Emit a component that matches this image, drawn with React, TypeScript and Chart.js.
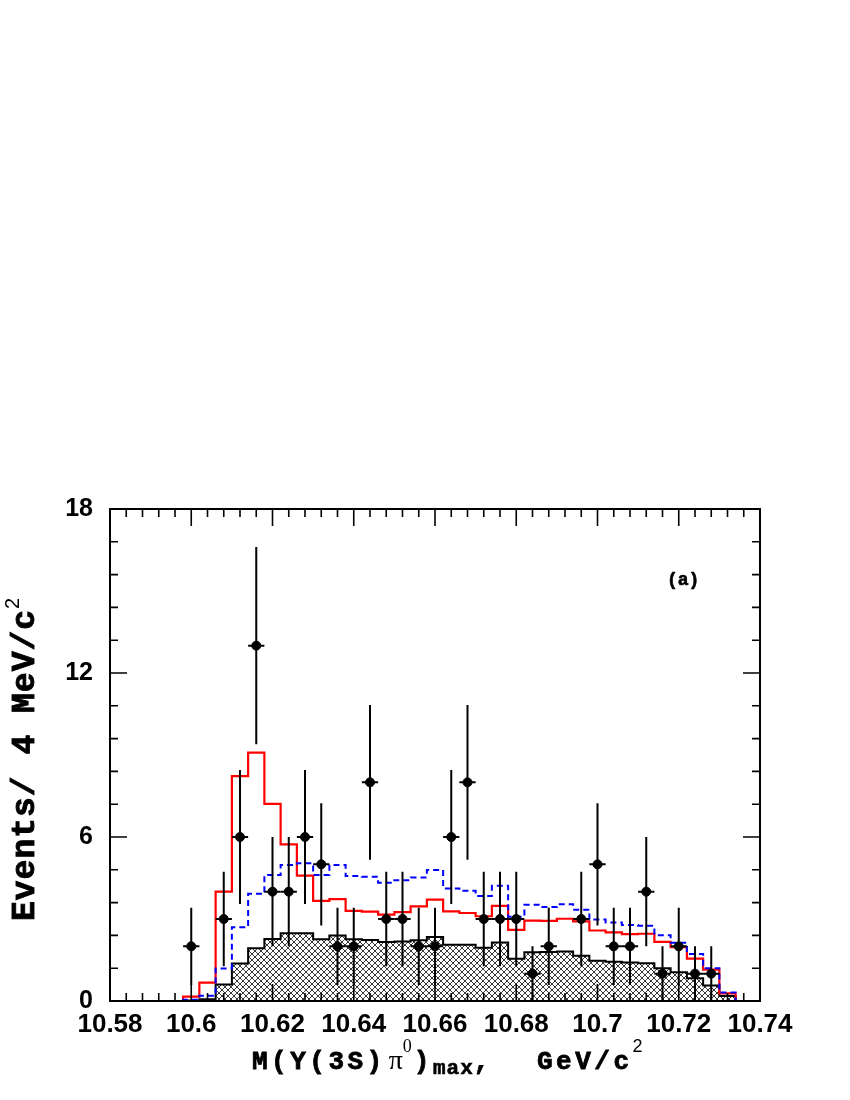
import React, { useEffect, useRef } from "react";
import { Chart, registerables } from "chart.js";

Chart.register(...registerables);

// Bin centres, GeV/c^2 (bin width 4 MeV)
const binCenters = [
  10.600, 10.604, 10.608, 10.612, 10.616, 10.620, 10.624, 10.628, 10.632, 10.636,
  10.640, 10.644, 10.648, 10.652, 10.656, 10.660, 10.664, 10.668, 10.672, 10.676,
  10.680, 10.684, 10.688, 10.692, 10.696, 10.700, 10.704, 10.708, 10.712, 10.716,
  10.720, 10.724, 10.728, 10.732,
];
const BIN_WIDTH = 0.004;

// Data: events per bin
const dataCounts = [
  2, 0, 3, 6, 13, 4, 4, 6, 5, 2,
  2, 8, 3, 3, 2, 2, 6, 8, 3, 3,
  3, 1, 2, 0, 3, 5, 2, 2, 4, 1,
  2, 1, 1, 0,
];

// Total fit (red)
const totalFit = [
  0.16, 0.67, 4.0, 8.23, 9.09, 7.21, 5.73, 4.59, 3.66, 3.73,
  3.30, 3.27, 3.16, 3.25, 3.46, 3.71, 3.28, 3.22, 3.10, 3.48,
  2.60, 2.94, 2.93, 3.01, 2.91, 2.58, 2.51, 2.45, 2.46, 2.16,
  1.97, 1.55, 1.15, 0.28,
];

// Alternative fit (blue dashed)
const altFit = [
  0.05, 0.19, 1.19, 2.70, 3.92, 4.61, 4.98, 5.04, 4.61, 4.98,
  4.57, 4.55, 4.33, 4.42, 4.52, 4.79, 4.12, 4.03, 3.84, 4.22,
  3.08, 3.52, 3.44, 3.54, 3.34, 2.98, 2.87, 2.78, 2.75, 2.41,
  2.13, 1.72, 1.20, 0.31,
];

// Background (hatched)
const background = [
  0.02, 0.06, 0.60, 1.37, 1.93, 2.27, 2.48, 2.48, 2.26, 2.40,
  2.26, 2.23, 2.16, 2.18, 2.22, 2.34, 2.06, 2.06, 1.95, 2.14,
  1.55, 1.78, 1.79, 1.81, 1.66, 1.47, 1.44, 1.41, 1.38, 1.20,
  1.05, 0.83, 0.57, 0.18,
];

const X_MIN = 10.58;
const X_MAX = 10.74;
const X_MAJOR = 0.02;
const X_MINOR = 0.004;
const Y_MIN = 0;
const Y_MAX = 18;
const Y_MAJOR = 6;
const Y_MINOR = 1.2;

function stepPoints(vals: number[]) {
  const half = BIN_WIDTH / 2;
  const pts: { x: number; y: number }[] = [{ x: binCenters[0] - half, y: 0 }];
  vals.forEach((v, i) => pts.push({ x: binCenters[i] - half, y: v }));
  pts.push({ x: binCenters[binCenters.length - 1] + half, y: 0 });
  return pts;
}

function makeHatch(): CanvasPattern | string {
  const c = document.createElement("canvas");
  c.width = 6;
  c.height = 6;
  const g = c.getContext("2d");
  if (!g) return "#888";
  g.fillStyle = "#fff";
  g.fillRect(0, 0, 6, 6);
  g.strokeStyle = "#222";
  g.lineWidth = 0.9;
  g.beginPath();
  g.moveTo(-1, -1);
  g.lineTo(7, 7);
  g.moveTo(7, -1);
  g.lineTo(-1, 7);
  g.stroke();
  const p = g.createPattern(c, "repeat");
  return p || "#888";
}

const framePlugin = {
  id: "frameTicks",
  afterDatasetsDraw(chart: any) {
    const { ctx, scales } = chart;
    const xs = scales.x;
    const ys = scales.y;
    // error bars
    ctx.save();
    ctx.strokeStyle = "#000";
    ctx.lineWidth = 2;
    binCenters.forEach((c, i) => {
      const n = dataCounts[i];
      if (n <= 0) return;
      const e = Math.sqrt(n);
      const px = xs.getPixelForValue(c);
      const py = ys.getPixelForValue(n);
      ctx.beginPath();
      ctx.moveTo(px, ys.getPixelForValue(n + e));
      ctx.lineTo(px, ys.getPixelForValue(Math.max(0, n - e)));
      ctx.moveTo(xs.getPixelForValue(c - BIN_WIDTH / 2), py);
      ctx.lineTo(xs.getPixelForValue(c + BIN_WIDTH / 2), py);
      ctx.stroke();
    });
    ctx.restore();
  },
  afterDraw(chart: any) {
    const { ctx, chartArea, scales } = chart;
    const { left, right, top, bottom } = chartArea;
    const xs = scales.x;
    const ys = scales.y;
    ctx.save();
    ctx.strokeStyle = "#000";
    ctx.lineWidth = 2;
    ctx.strokeRect(left, top, right - left, bottom - top);
    ctx.lineWidth = 1.6;
    ctx.beginPath();
    const nx = Math.round((X_MAX - X_MIN) / X_MINOR);
    const perMajX = Math.round(X_MAJOR / X_MINOR);
    for (let k = 0; k <= nx; k++) {
      const px = xs.getPixelForValue(X_MIN + k * X_MINOR);
      const len = k % perMajX === 0 ? 17 : 8;
      ctx.moveTo(px, bottom);
      ctx.lineTo(px, bottom - len);
      ctx.moveTo(px, top);
      ctx.lineTo(px, top + len);
    }
    const ny = Math.round((Y_MAX - Y_MIN) / Y_MINOR);
    const perMajY = Math.round(Y_MAJOR / Y_MINOR);
    for (let k = 0; k <= ny; k++) {
      const py = ys.getPixelForValue(Y_MIN + k * Y_MINOR);
      const len = k % perMajY === 0 ? 17 : 8;
      ctx.moveTo(left, py);
      ctx.lineTo(left + len, py);
      ctx.moveTo(right, py);
      ctx.lineTo(right - len, py);
    }
    ctx.stroke();

    // titles
    ctx.fillStyle = "#000";
    ctx.strokeStyle = "#000";
    ctx.textBaseline = "alphabetic";
    ctx.textAlign = "left";
    const mono = (s: number) => `bold ${s}px "Liberation Mono", "DejaVu Sans Mono", monospace`;
    let cx = 0;
    const put = (text: string, font: string, base: number, dy = 0, spacing = "0px", thick = 0) => {
      ctx.font = font;
      (ctx as any).letterSpacing = spacing;
      ctx.fillText(text, cx, base + dy);
      if (thick > 0) {
        ctx.lineWidth = thick;
        ctx.strokeText(text, cx, base + dy);
      }
      cx += ctx.measureText(text).width;
    };

    // x title
    cx = 252;
    const xb = 1069;
    put("M(\u03A5(3S)", mono(26), xb, 0, "3.5px", 0.8);
    cx += 3;
    put("\u03C0", '28px "Liberation Serif", serif', xb, 0);
    put("0", '18px "Liberation Serif", serif', xb, -17);
    cx += 2;
    put(")", mono(26), xb, 0, "3.5px", 0.8);
    put("max", mono(21), xb, 5, "1px", 0.6);
    put(",", mono(26), xb, 0, "3.5px", 0.8);
    cx = 537;
    put("GeV/c", mono(26), xb, 0, "3.5px", 0.8);
    put("2", '18px "Liberation Sans", sans-serif', xb, -17);

    // y title
    ctx.save();
    ctx.translate(34, 921);
    ctx.rotate(-Math.PI / 2);
    cx = 0;
    put("Events/ 4 MeV/c", mono(33), 0, 0, "1px", 0.9);
    put("2", '20px "Liberation Sans", sans-serif', 0, -15);
    ctx.restore();

    // panel label
    cx = 667;
    put("(a)", mono(18), 585, 0, "0px", 0.6);
    (ctx as any).letterSpacing = "0px";
    ctx.restore();
  },
};

export default function App() {
  const ref = useRef<HTMLCanvasElement | null>(null);
  useEffect(() => {
    if (!ref.current) return;
    const hatch = makeHatch();
    const pointData = binCenters
      .map((c, i) => ({ x: c, y: dataCounts[i] }))
      .filter((p) => p.y > 0);
    const chart = new Chart(ref.current, {
      type: "line",
      data: {
        datasets: [
          {
            type: "scatter",
            label: "Data",
            data: pointData,
            pointRadius: 4.5,
            pointBackgroundColor: "#000",
            pointBorderColor: "#000",
            showLine: false,
            order: 0,
          } as any,
          {
            label: "Alt fit",
            data: stepPoints(altFit),
            stepped: true,
            borderColor: "#0000ff",
            borderWidth: 2,
            borderDash: [6, 4],
            pointRadius: 0,
            fill: false,
            order: 1,
          },
          {
            label: "Total fit",
            data: stepPoints(totalFit),
            stepped: true,
            borderColor: "#ff0000",
            borderWidth: 2.2,
            pointRadius: 0,
            fill: false,
            order: 2,
          },
          {
            label: "Background",
            data: stepPoints(background),
            stepped: true,
            borderColor: "#000",
            borderWidth: 2,
            pointRadius: 0,
            fill: "origin",
            backgroundColor: hatch as any,
            order: 3,
          },
        ],
      },
      options: {
        animation: false,
        responsive: false,
        maintainAspectRatio: false,
        parsing: false as any,
        normalized: true,
        layout: { padding: { top: 509, right: 90, bottom: 0, left: 0 } },
        plugins: {
          legend: { display: false },
          tooltip: { enabled: false },
          title: { display: false },
        },
        scales: {
          x: {
            type: "linear",
            position: "bottom",
            min: X_MIN,
            max: X_MAX,
            grid: { display: false, drawTicks: false },
            border: { display: false },
            ticks: {
              stepSize: X_MAJOR,
              autoSkip: false,
              maxRotation: 0,
              minRotation: 0,
              padding: 8,
              color: "#000",
              font: { family: '"Liberation Sans", Arial, sans-serif', size: 26, weight: "bold" },
              callback: (v: any) => String(Math.round(Number(v) * 100) / 100),
            },
            afterFit: (s: any) => {
              s.height = 99;
            },
          },
          y: {
            type: "linear",
            position: "left",
            min: Y_MIN,
            max: Y_MAX,
            grid: { display: false, drawTicks: false },
            border: { display: false },
            ticks: {
              stepSize: Y_MAJOR,
              padding: 17,
              color: "#000",
              font: { family: '"Liberation Sans", Arial, sans-serif', size: 25, weight: "bold" },
            },
            afterFit: (s: any) => {
              s.width = 110;
            },
          },
        },
      },
      plugins: [framePlugin],
    });
    return () => chart.destroy();
  }, []);

  return (
    <div style={{ position: "absolute", left: 0, top: 0, width: 850, height: 1100, background: "#fff" }}>
      <canvas ref={ref} width={850} height={1100} style={{ display: "block", width: 850, height: 1100 }} />
    </div>
  );
}
